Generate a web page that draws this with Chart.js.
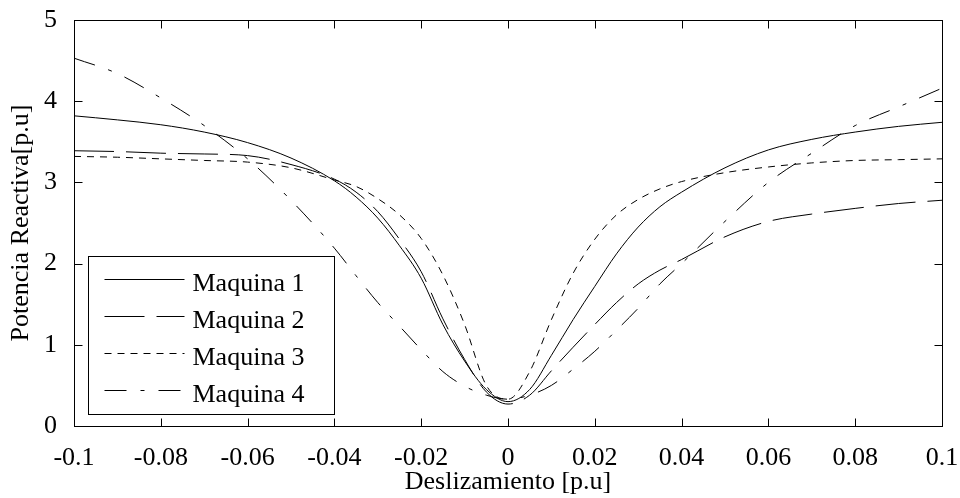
<!DOCTYPE html>
<html>
<head>
<meta charset="utf-8">
<title>Potencia Reactiva vs Deslizamiento</title>
<script src="https://cdn.jsdelivr.net/npm/chart.js@4.4.1/dist/chart.umd.min.js"></script>
<style>
  html, body { margin: 0; padding: 0; background: #fff; }
  #wrap { width: 960px; height: 498px; }
</style>
</head>
<body>
<div id="wrap"><canvas id="grafico" width="960" height="498"></canvas></div>
<script>
// Deslizamiento [p.u] (eje x)
const slip = [-0.1, -0.09, -0.08, -0.07, -0.06, -0.05, -0.04, -0.035, -0.03, -0.025, -0.02, -0.015, -0.01, -0.005, 0,
  0.005, 0.01, 0.015, 0.02, 0.025, 0.03, 0.035, 0.04, 0.05, 0.06, 0.07, 0.08, 0.09, 0.1];

// Potencia reactiva [p.u]
const maquina1 = [3.82, 3.77, 3.71, 3.62, 3.49, 3.30, 3.02, 2.82, 2.56, 2.22, 1.82, 1.25, 0.80, 0.45, 0.30,
  0.45, 0.87, 1.31, 1.72, 2.12, 2.45, 2.70, 2.88, 3.18, 3.40, 3.53, 3.62, 3.69, 3.74];
const maquina2 = [3.39, 3.38, 3.36, 3.35, 3.33, 3.22, 3.04, 2.88, 2.64, 2.30, 1.90, 1.32, 0.82, 0.42, 0.27,
  0.38, 0.68, 0.97, 1.25, 1.52, 1.75, 1.92, 2.05, 2.33, 2.52, 2.61, 2.68, 2.74, 2.78];
const maquina3 = [3.32, 3.31, 3.29, 3.27, 3.25, 3.18, 3.03, 2.95, 2.80, 2.60, 2.31, 1.86, 1.25, 0.50, 0.33,
  0.67, 1.31, 1.88, 2.30, 2.60, 2.79, 2.92, 3.01, 3.12, 3.19, 3.24, 3.27, 3.28, 3.29];
const maquina4 = [4.53, 4.34, 4.04, 3.70, 3.29, 2.78, 2.19, 1.85, 1.52, 1.23, 0.94, 0.67, 0.49, 0.38, 0.33,
  0.38, 0.50, 0.70, 0.92, 1.18, 1.45, 1.75, 2.00, 2.52, 3.00, 3.36, 3.70, 3.93, 4.16];

const nombres = ['Maquina 1', 'Maquina 2', 'Maquina 3', 'Maquina 4'];
const yTicks = [0, 1, 2, 3, 4, 5];

const serif = "'Liberation Serif', 'Times New Roman', serif";
const trazos = [[], [40, 12], [7, 6], [22, 14, 4, 14]];

function serie(valores, i) {
  return {
    label: nombres[i],
    data: slip.map((s, k) => ({ x: s, y: valores[k] })),
    borderColor: '#000',
    borderWidth: 1,
    borderDash: trazos[i],
    pointRadius: 0,
    cubicInterpolationMode: 'monotone',
    fill: false
  };
}

// caja, marcas hacia adentro y leyenda dentro del area
const marco = {
  id: 'marco',
  afterDatasetsDraw(chart) {
    const { ctx, chartArea: a, scales: { x, y } } = chart;
    const L = Math.round(a.left) + 0.5, R = Math.round(a.right) + 0.5;
    const T = Math.round(a.top) + 0.5, B = Math.round(a.bottom) + 0.5;
    ctx.save();
    ctx.strokeStyle = '#000';
    ctx.lineWidth = 1;
    ctx.setLineDash([]);
    ctx.strokeRect(L, T, R - L, B - T);

    ctx.beginPath();
    x.ticks.forEach(t => {
      const px = Math.round(x.getPixelForValue(t.value)) + 0.5;
      ctx.moveTo(px, B); ctx.lineTo(px, B - 8);
      ctx.moveTo(px, T); ctx.lineTo(px, T + 8);
    });
    y.ticks.forEach(t => {
      const py = Math.round(y.getPixelForValue(t.value)) + 0.5;
      ctx.moveTo(L, py); ctx.lineTo(L + 8, py);
      ctx.moveTo(R, py); ctx.lineTo(R - 8, py);
    });
    ctx.stroke();

    // leyenda
    const lx = L + 14, ly = B - 170, lw = 246, lh = 158;
    ctx.fillStyle = '#fff';
    ctx.fillRect(lx, ly, lw, lh);
    ctx.strokeRect(lx, ly, lw, lh);
    ctx.font = '26px ' + serif;
    ctx.fillStyle = '#000';
    ctx.textBaseline = 'alphabetic';
    chart.data.datasets.forEach((ds, i) => {
      const yy = Math.round(ly + 22 + i * 37.3) + 0.5;
      ctx.beginPath();
      ctx.setLineDash(ds.borderDash);
      ctx.moveTo(lx + 16, yy);
      ctx.lineTo(lx + 96, yy);
      ctx.stroke();
      ctx.setLineDash([]);
      ctx.fillText(ds.label, lx + 104, yy + 11);
    });
    ctx.restore();
  }
};

new Chart(document.getElementById('grafico'), {
  type: 'line',
  data: {
    datasets: [maquina1, maquina2, maquina3, maquina4].map(serie)
  },
  options: {
    responsive: false,
    animation: false,
    layout: { padding: { top: 20, right: 18, left: 0, bottom: 0 } },
    plugins: { legend: { display: false }, tooltip: { enabled: false } },
    scales: {
      x: {
        type: 'linear',
        min: -0.1,
        max: 0.1,
        grid: { display: false },
        border: { display: false },
        ticks: {
          stepSize: 0.02,
          autoSkip: false,
          maxRotation: 0,
          padding: 9,
          color: '#000',
          font: { family: serif, size: 26 },
          callback: v => String(parseFloat(v.toFixed(2)))
        },
        title: {
          display: true,
          text: 'Deslizamiento [p.u]',
          color: '#000',
          font: { family: serif, size: 26 },
          padding: { top: 0, bottom: 0 }
        },
        afterFit: s => { s.height = 72; s.paddingLeft = 0; s.paddingRight = 0; }
      },
      y: {
        min: 0,
        max: 5,
        grid: { display: false },
        border: { display: false },
        afterBuildTicks: s => { s.ticks = yTicks.map(v => ({ value: v })); },
        ticks: {
          padding: 9,
          color: '#000',
          font: { family: serif, size: 26 }
        },
        title: {
          display: true,
          text: 'Potencia Reactiva[p.u]',
          color: '#000',
          font: { family: serif, size: 26 },
          padding: { top: 6, bottom: 0 }
        },
        afterFit: s => { s.width = 74; s.paddingTop = 0; s.paddingBottom = 0; }
      }
    }
  },
  plugins: [marco]
});
</script>
</body>
</html>
